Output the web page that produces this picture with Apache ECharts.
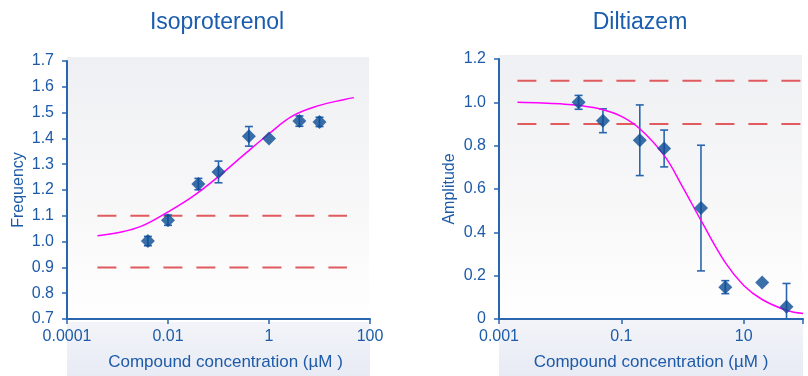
<!DOCTYPE html>
<html><head><meta charset="utf-8">
<script src="https://cdn.jsdelivr.net/npm/echarts@6/dist/echarts.min.js"></script>
<style>html,body{margin:0;padding:0;background:#fff}#c{width:808px;height:376px}</style>
</head><body><div id="c"></div>
<script>
// ---- Data ----
const titles = ['Isoproterenol', 'Diltiazem'];
const yNames = ['Frequency', 'Amplitude'];
const xName = 'Compound concentration (µM )';

// Isoproterenol measured points
const isoConc = [0.004, 0.01, 0.04, 0.1, 0.4, 1, 4, 10];
const isoFreq = [1.002, 1.083, 1.223, 1.270, 1.408, 1.400, 1.467, 1.464];
const isoErr  = [0.018, 0.020, 0.022, 0.042, 0.038, 0.000, 0.020, 0.018];
// Isoproterenol fitted curve (read)
const isoFitX = [0.0004, 0.001, 0.003, 0.01, 0.03, 0.1, 0.3, 1, 3, 10, 30, 48];
const isoFitY = [1.023, 1.034, 1.060, 1.115, 1.173, 1.252, 1.332, 1.418, 1.488, 1.528, 1.550, 1.558];
const isoRefLevels = [1.1, 0.9];
const isoRefSpan = [0.0004, 35];

// Diltiazem measured points
const dilConc = [0.02, 0.05, 0.2, 0.5, 2, 5, 20, 50];
const dilAmp  = [1.000, 0.915, 0.825, 0.787, 0.512, 0.147, 0.168, 0.057];
const dilErr  = [0.032, 0.055, 0.163, 0.085, 0.290, 0.030, 0.000, 0.107];
// Diltiazem fitted curve (read)
const dilFitX = [0.002, 0.005, 0.01, 0.02, 0.05, 0.1, 0.2, 0.5, 1, 2, 5, 10, 20, 50, 93];
const dilFitY = [1.000, 0.997, 0.993, 0.986, 0.966, 0.935, 0.878, 0.755, 0.610, 0.455, 0.260, 0.155, 0.090, 0.040, 0.025];
const dilRefLevels = [1.1, 0.9];
const dilRefSpan = [0.002, 93];

// ---- Styling ----
const BLUE_TEXT = '#1d5ba8';
const TITLE_BLUE = '#1a5cae';
const AXIS = '#2a66ae';
const MARK = '#0a4b93';
const ERR = '#2a66ae';
const FIT = '#ff00ff';
const REF = '#e05a5e';
const FONT = '"Liberation Sans", Arial, sans-serif';

const zip = (a, b) => a.map((v, i) => [v, b[i]]);
const errData = (x, y, e) => x.map((v, i) => [v, y[i] - e[i], y[i] + e[i]]);

function errSeries(idx, data) {
  return {
    type: 'custom', xAxisIndex: idx, yAxisIndex: idx, clip: true, z: 3,
    data: data,
    renderItem: function (params, api) {
      const x = api.value(0), lo = api.value(1), hi = api.value(2);
      if (hi - lo < 1e-9) return null;
      const p1 = api.coord([x, lo]), p2 = api.coord([x, hi]);
      const w = 4;
      const st = { stroke: ERR, lineWidth: 1.6 };
      return { type: 'group', children: [
        { type: 'line', shape: { x1: p1[0], y1: p1[1], x2: p2[0], y2: p2[1] }, style: st },
        { type: 'line', shape: { x1: p1[0] - w, y1: p1[1], x2: p1[0] + w, y2: p1[1] }, style: st },
        { type: 'line', shape: { x1: p2[0] - w, y1: p2[1], x2: p2[0] + w, y2: p2[1] }, style: st }
      ]};
    }
  };
}

function refSeries(idx, level, span) {
  return {
    type: 'line', xAxisIndex: idx, yAxisIndex: idx, symbol: 'none', silent: true, z: 2,
    data: [[span[0], level], [span[1], level]],
    lineStyle: { color: REF, width: 2, type: [19, 14] }
  };
}

const axisLabelStyle = { color: BLUE_TEXT, fontSize: 16, fontFamily: FONT };

function xAxisCfg(idx, min, max, namePad) {
  return {
    type: 'log', gridIndex: idx, logBase: 10, min: min, max: max, interval: 2,
    name: xName, nameLocation: 'middle', nameGap: 35,
    nameTextStyle: { color: BLUE_TEXT, fontSize: 17, fontFamily: FONT, padding: namePad },
    axisLine: { show: true, lineStyle: { color: AXIS, width: 2 } },
    axisTick: { show: true, length: 5, lineStyle: { color: AXIS, width: 1.5 } },
    axisLabel: Object.assign({ margin: 10, showMaxLabel: true, showMinLabel: true,
      formatter: function (v) {
        const l = Math.log10(v);
        if (Math.abs(l - Math.round(l)) > 1e-6) return '';
        return String(v >= 1 ? Math.round(v) : Number(v.toPrecision(1)));
      } }, axisLabelStyle),
    splitLine: { show: false }, minorTick: { show: false }
  };
}
function yAxisCfg(idx, min, max, interval, fmt, gap) {
  return {
    type: 'value', gridIndex: idx, min: min, max: max, interval: interval,
    name: yNames[idx], nameLocation: 'middle', nameGap: gap, nameRotate: 90,
    nameTextStyle: { color: BLUE_TEXT, fontSize: 16, fontFamily: FONT },
    axisLine: { show: true, lineStyle: { color: AXIS, width: 2 } },
    axisTick: { show: true, length: 5, lineStyle: { color: AXIS, width: 1.5 } },
    axisLabel: Object.assign({ margin: 13, formatter: fmt }, axisLabelStyle),
    splitLine: { show: false }
  };
}

const grids = [
  { left: 67, top: 61, width: 303, height: 261 },
  { left: 499, top: 59, width: 304, height: 261 }
];

function bgRects(g) {
  return [
    { type: 'rect', z: -10, shape: { x: g.left, y: g.top - 4, width: g.width - 1, height: g.height + 4 },
      style: { fill: new echarts.graphic.LinearGradient(0, 0, 0, 1, [
        { offset: 0, color: '#eff0f3' }, { offset: 0.6, color: '#f8f8f9' }, { offset: 1, color: '#ffffff' }]) } },
    { type: 'rect', z: -10, shape: { x: g.left, y: g.top + g.height, width: g.width, height: 376 - g.top - g.height },
      style: { fill: new echarts.graphic.LinearGradient(0, 0, 0, 1, [
        { offset: 0, color: '#f2f4f9' }, { offset: 1, color: '#e8ebf4' }]) } }
  ];
}

const chart = echarts.init(document.getElementById('c'), null, { renderer: 'canvas' });
chart.setOption({
  animation: false,
  backgroundColor: '#ffffff',
  textStyle: { fontFamily: FONT },
  title: [
    { text: titles[0], left: 212, top: 6, textAlign: 'center',
      textStyle: { color: TITLE_BLUE, fontSize: 23, fontWeight: 'normal', fontFamily: FONT } },
    { text: titles[1], left: 635, top: 6, textAlign: 'center',
      textStyle: { color: TITLE_BLUE, fontSize: 23, fontWeight: 'normal', fontFamily: FONT } }
  ],
  graphic: bgRects(grids[0]).concat(bgRects(grids[1])),
  grid: grids,
  xAxis: [xAxisCfg(0, 0.0001, 100, [0, 0, 0, 14]), xAxisCfg(1, 0.001, 93, 0)],
  yAxis: [
    yAxisCfg(0, 0.7, 1.7, 0.1, v => v.toFixed(1), 40),
    yAxisCfg(1, 0, 1.2, 0.2, v => (v === 0 ? '0' : v.toFixed(1)), 41)
  ],
  series: [
    refSeries(0, isoRefLevels[0], isoRefSpan),
    refSeries(0, isoRefLevels[1], isoRefSpan),
    { type: 'line', xAxisIndex: 0, yAxisIndex: 0, symbol: 'none', smooth: 0.4, z: 4,
      data: zip(isoFitX, isoFitY), lineStyle: { color: FIT, width: 1.5 } },
    errSeries(0, errData(isoConc, isoFreq, isoErr)),
    { type: 'scatter', xAxisIndex: 0, yAxisIndex: 0, symbol: 'diamond', symbolSize: [14, 14], z: 5,
      data: zip(isoConc, isoFreq), itemStyle: { color: MARK } },

    refSeries(1, dilRefLevels[0], dilRefSpan),
    refSeries(1, dilRefLevels[1], dilRefSpan),
    { type: 'line', xAxisIndex: 1, yAxisIndex: 1, symbol: 'none', smooth: 0.4, z: 4,
      data: zip(dilFitX, dilFitY), lineStyle: { color: FIT, width: 1.5 } },
    errSeries(1, errData(dilConc, dilAmp, dilErr)),
    { type: 'scatter', xAxisIndex: 1, yAxisIndex: 1, symbol: 'diamond', symbolSize: [14, 14], z: 5,
      data: zip(dilConc, dilAmp), itemStyle: { color: MARK } }
  ]
});
</script></body></html>
